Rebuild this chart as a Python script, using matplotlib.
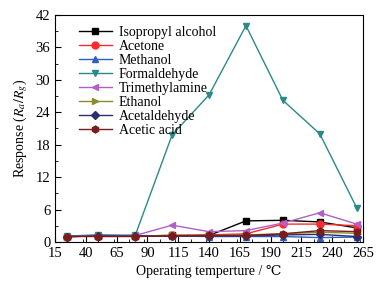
import numpy as np
import matplotlib.pyplot as plt
from matplotlib.ticker import MultipleLocator, FixedLocator

plt.rcParams['font.family'] = ['Liberation Serif', 'DejaVu Serif']
plt.rcParams['mathtext.fontset'] = 'stix'

# Operating temperatures (deg C)
temps = [25, 50, 80, 110, 140, 170, 200, 230, 260]
xticks = [15, 40, 65, 90, 115, 140, 165, 190, 215, 240, 265]

isopropyl = [1.0, 1.1, 1.1, 1.2, 1.2, 3.9, 4.0, 3.7, 2.6]
acetone = [1.0, 1.1, 1.1, 1.2, 1.3, 1.5, 3.3, 3.3, 3.0]
methanol = [1.1, 1.3, 1.2, 1.1, 1.0, 1.0, 1.0, 0.8, 0.9]
formaldehyde = [1.1, 1.2, 1.2, 19.8, 27.2, 40.0, 26.2, 20.0, 6.3]
trimethylamine = [1.0, 1.1, 1.2, 3.1, 1.9, 2.1, 3.5, 5.4, 3.3]
ethanol = [1.0, 1.1, 1.1, 1.2, 1.2, 1.3, 1.5, 1.8, 1.6]
acetaldehyde = [1.0, 1.1, 1.1, 1.1, 1.1, 1.1, 1.3, 1.4, 1.0]
acetic_acid = [1.0, 1.0, 1.0, 1.1, 1.2, 1.2, 1.5, 2.1, 1.9]

series = [
    ("Isopropyl alcohol", isopropyl, "black", "s"),
    ("Acetone", acetone, "#ff2a2a", "o"),
    ("Methanol", methanol, "#2f5fc0", "^"),
    ("Formaldehyde", formaldehyde, "#2a8a88", "v"),
    ("Trimethylamine", trimethylamine, "#b060c8", "<"),
    ("Ethanol", ethanol, "#8a8a2a", ">"),
    ("Acetaldehyde", acetaldehyde, "#2c2c6e", "D"),
    ("Acetic acid", acetic_acid, "#7a1c1c", "h"),
]

fig = plt.figure(figsize=(3.78, 2.87), dpi=100)
ax = fig.add_axes([0.146, 0.157, 0.814, 0.791])

for name, vals, color, marker in series:
    ms = 4.0 if marker == "D" else 5.0
    ax.plot(temps, vals, color=color, marker=marker, markersize=ms,
            linewidth=1.0, label=name)

ax.set_xlim(15, 265)
ax.set_ylim(0, 42)
ax.xaxis.set_major_locator(FixedLocator(xticks))
ax.xaxis.set_minor_locator(MultipleLocator(12.5))
ax.yaxis.set_major_locator(MultipleLocator(6))
ax.yaxis.set_minor_locator(MultipleLocator(3))
ax.tick_params(which='both', direction='in', labelsize=10.5)
ax.tick_params(which='major', length=4)
ax.tick_params(which='minor', length=2)

ax.set_xlabel("Operating temperture / \u2103", fontsize=10)
ax.set_ylabel("Response ($R_a/R_g$)", fontsize=10)

ax.legend(loc='upper left', frameon=False, fontsize=10, handlelength=2.4,
          handletextpad=0.5, labelspacing=0.07, borderaxespad=0.4,
          bbox_to_anchor=(0.04, 1.0))

plt.savefig("out.png", dpi=100)
